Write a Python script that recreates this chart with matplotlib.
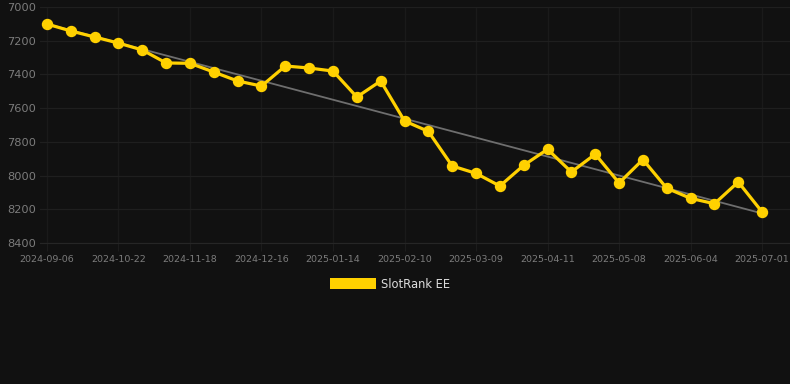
import numpy as np
import matplotlib
matplotlib.use('Agg')
import matplotlib.pyplot as plt
from matplotlib.patches import Patch

# ------------------------------------------------------------
# Data (rank, lower is better)
# ------------------------------------------------------------
dates = ['2024-09-06', '2024-09-21', '2024-10-07', '2024-10-22', '2024-10-31',
         '2024-11-09', '2024-11-18', '2024-11-27', '2024-12-07', '2024-12-16',
         '2024-12-26', '2025-01-04', '2025-01-14', '2025-01-23', '2025-02-01',
         '2025-02-10', '2025-02-19', '2025-02-28', '2025-03-09', '2025-03-20',
         '2025-03-31', '2025-04-11', '2025-04-20', '2025-04-29', '2025-05-08',
         '2025-05-17', '2025-05-26', '2025-06-04', '2025-06-13', '2025-06-22',
         '2025-07-01']
rank = [7101, 7142, 7178, 7214, 7255, 7332, 7334, 7386, 7439, 7469,
        7350, 7362, 7380, 7534, 7439, 7676, 7738, 7943, 7987, 8062,
        7939, 7844, 7979, 7873, 8044, 7905, 8075, 8135, 8167, 8038,
        8216]
yticks = [7000, 7200, 7400, 7600, 7800, 8000, 8200, 8400]
series_name = 'SlotRank EE'

bg = '#111111'
yellow = '#FFD100'

fig = plt.figure(figsize=(7.9, 3.84), dpi=100, facecolor=bg)
ax = fig.add_axes([40 / 790, 1 - 243 / 384, 750 / 790, 236 / 384])
ax.set_facecolor(bg)

x = np.arange(len(rank))

# linear trend
k, b = np.polyfit(x, rank, 1)
ax.plot(x, k * x + b, color='#6e6e6e', lw=1.3, zorder=2)

ax.plot(x, rank, color=yellow, lw=2.3, marker='o', ms=7.2, zorder=3)

ax.set_ylim(8400, 7000)
ax.set_yticks(yticks)
ax.set_xlim(-0.29, 31.17)
ax.set_xticks(x[::3])
ax.set_xticklabels(dates[::3])

ax.grid(True, axis='y', color='#1f1f1f', lw=0.9)
ax.grid(True, axis='x', color='#1a1a1a', lw=0.9)
for s in ax.spines.values():
    s.set_visible(False)
ax.spines['bottom'].set_visible(True)
ax.spines['bottom'].set_color('#262626')
ax.tick_params(axis='y', length=0, pad=3, labelsize=8.2, labelcolor='#7c7c7c')
ax.tick_params(axis='x', length=6, color='#1c1c1c', pad=3, labelsize=6.8, labelcolor='#7c7c7c')

leg = fig.legend(handles=[Patch(facecolor=yellow, label=series_name)],
                 loc='center', bbox_to_anchor=(390 / 790, 1 - 284 / 384),
                 frameon=False, handlelength=4.0, handleheight=1.1,
                 handletextpad=0.5, fontsize=8.3)
for t in leg.get_texts():
    t.set_color('#dddddd')

fig.savefig('out.png', dpi=100, facecolor=bg)
